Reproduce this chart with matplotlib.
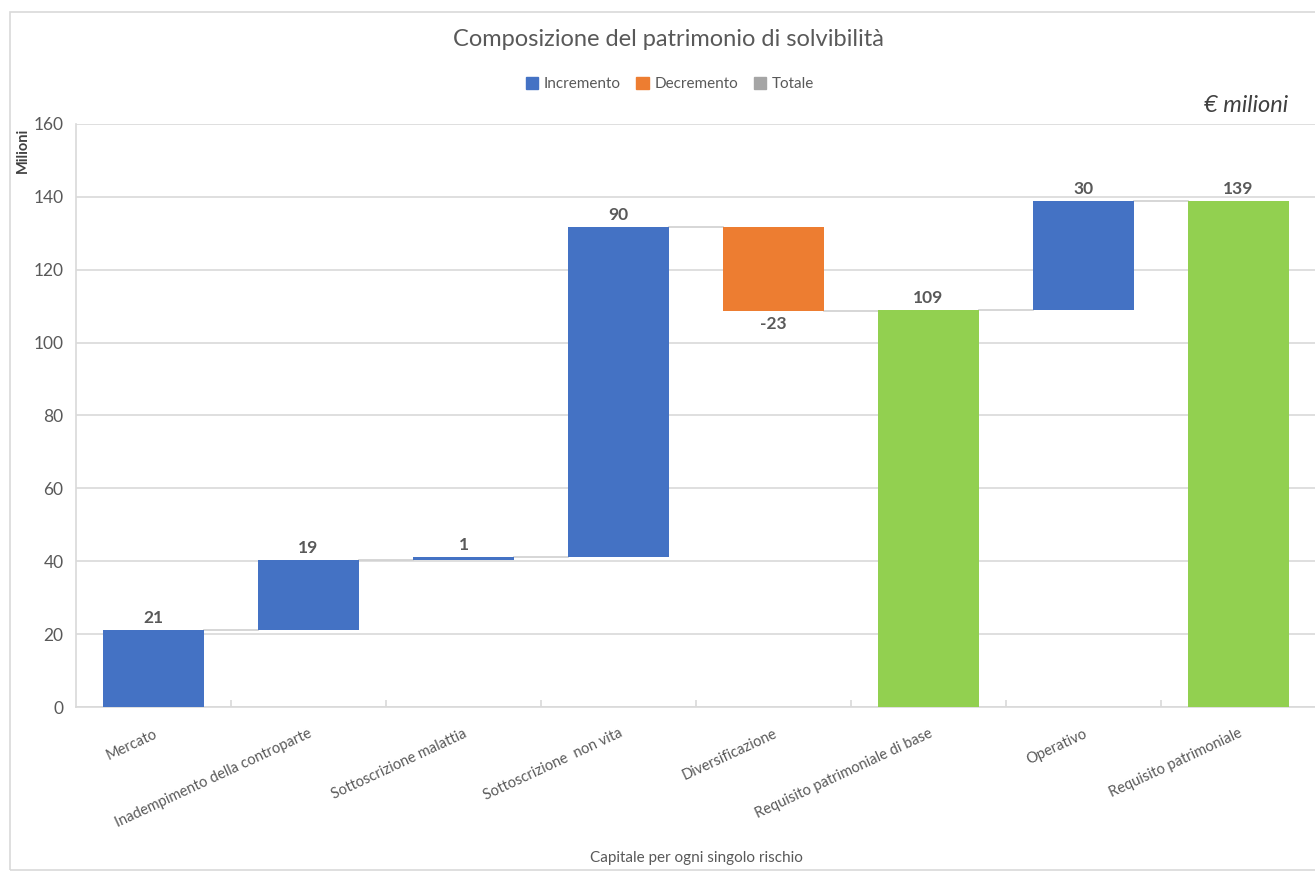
import matplotlib
matplotlib.use('Agg')
import matplotlib.pyplot as plt
from matplotlib.patches import Patch, Rectangle
import numpy as np

plt.rcParams['font.family'] = ['Lato', 'DejaVu Sans']

# data (€ milioni)
categories = ['Mercato', 'Inadempimento della controparte', 'Sottoscrizione malattia',
              'Sottoscrizione  non vita', 'Diversificazione', 'Requisito patrimoniale di base',
              'Operativo', 'Requisito patrimoniale']
values = [21.1, 19.2, 0.9, 90.4, -22.8, 108.9, 29.9, 138.8]
is_total = [False, False, False, False, False, True, False, True]
labels = ['21', '19', '1', '90', '-23', '109', '30', '139']

col_inc = '#4472C4'
col_dec = '#ED7D31'
col_tot = '#92D050'
col_leg_tot = '#A5A5A5'
txt = '#595959'
grid_col = '#D9D9D9'

fig = plt.figure(figsize=(13.15, 8.72), dpi=100)
ax = fig.add_axes([76/1315, 1-707/872, 1240/1315, 583/872])

# outer chart frame
fig.patches.append(Rectangle((10/1315, 2/872), 1.0, 1-14/872, transform=fig.transFigure,
                             fill=False, edgecolor=grid_col, linewidth=1.2))

x = np.arange(len(categories))
bar_w = 0.65
running = 0
tops = []
for i, v in enumerate(values):
    if is_total[i]:
        bottom, height, color = 0, v, col_tot
        running = v
    else:
        bottom = running if v >= 0 else running + v
        height = abs(v)
        color = col_inc if v >= 0 else col_dec
        running = running + v
    ax.bar(x[i], height, bottom=bottom, width=bar_w, color=color, zorder=3)
    tops.append(running)
    if v >= 0:
        ax.text(x[i], bottom + height + 1.2, labels[i], ha='center', va='bottom',
                fontsize=12.5, fontweight='bold', color=txt, zorder=4)
    else:
        ax.text(x[i], bottom - 1.5, labels[i], ha='center', va='top',
                fontsize=12.5, fontweight='bold', color=txt, zorder=4)

# connector lines
for i in range(len(values) - 1):
    ax.plot([x[i] + bar_w/2, x[i+1] - bar_w/2], [tops[i], tops[i]],
            color='#D0D0D0', linewidth=1.2, zorder=2)

ax.set_xlim(-0.5, len(categories) - 0.5)
ax.set_ylim(0, 160)
ax.set_yticks(np.arange(0, 161, 20))
ax.yaxis.grid(True, color=grid_col, linewidth=1.2, zorder=0)
ax.tick_params(axis='y', length=0, labelsize=12.5, labelcolor=txt, pad=9)

ax.set_xticks(x)
ax.set_xticklabels(categories, rotation=25, ha='right', va='top',
                   rotation_mode='anchor', fontsize=10.5, color=txt)
ax.tick_params(axis='x', length=0, pad=14)
ax.set_xticks(np.arange(0.5, len(categories) - 0.5, 1), minor=True)
ax.tick_params(axis='x', which='minor', length=5, direction='in', color=grid_col, width=1.2)

for s in ['top', 'right']:
    ax.spines[s].set_visible(False)
ax.spines['left'].set_color(grid_col)
ax.spines['bottom'].set_color(grid_col)
ax.spines['left'].set_linewidth(1.2)
ax.spines['bottom'].set_linewidth(1.2)

ax.set_ylabel('Milioni', fontsize=10.5, fontweight='bold', color='#404040')
ax.yaxis.set_label_coords(-0.037, 0.955)

fig.text(696/1315, 1-858/872, 'Capitale per ogni singolo rischio', ha='center', va='center',
         fontsize=11, color=txt)
fig.text(668/1315, 1-40/872, 'Composizione del patrimonio di solvibilità', ha='center',
         va='center', fontsize=17, color=txt)
fig.text(1288/1315, 1-106/872, '€ milioni', ha='right', va='center', fontsize=17,
         style='italic', color='#404040')

handles = [Patch(color=col_inc, label='Incremento'),
           Patch(color=col_dec, label='Decremento'),
           Patch(color=col_leg_tot, label='Totale')]
fig.legend(handles=handles, loc='center', bbox_to_anchor=(670/1315, 1-84/872), ncol=3,
           frameon=False, fontsize=11, handlelength=0.8, handleheight=0.8,
           handletextpad=0.4, columnspacing=1.0, labelcolor=txt)

fig.savefig('out.png', dpi=100)
